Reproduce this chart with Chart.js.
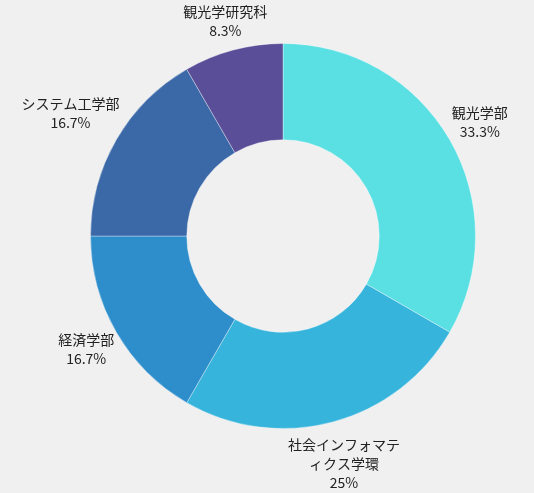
<!DOCTYPE html>
<html><head><meta charset="utf-8">
<script src="https://cdn.jsdelivr.net/npm/chart.js@4"></script>
<style>
html,body{margin:0;padding:0;background:#f0f0f0;}
#wrap{width:534px;height:493px;}
</style></head>
<body><div id="wrap"><canvas id="c" width="534" height="493"></canvas></div>
<script>
const categories = ["観光学部","社会インフォマティクス学環","経済学部","システム工学部","観光学研究科"];
const counts = [4,3,2,2,1];
const percentLabels = ["33.3%","25%","16.7%","16.7%","8.3%"];
const colors = ["#5ae0e3","#36b4dc","#2d8ecb","#3b69a8","#5a4e98"];

const labelPlugin = {
  id:'outerLabels',
  afterDatasetsDraw(chart){
    const ctx = chart.ctx;
    const meta = chart.getDatasetMeta(0);
    ctx.save();
    ctx.font = '14px "Noto Sans CJK JP"';
    ctx.fillStyle = '#222';
    ctx.textAlign = 'center';
    ctx.textBaseline = 'middle';
    const maxW = 120, lh = 19, k = 1;
    meta.data.forEach((arc,i)=>{
      const p = arc.getProps(['x','y','startAngle','endAngle','outerRadius'],true);
      const mid = (p.startAngle+p.endAngle)/2;
      const lines = [];
      let cur = '';
      for (const ch of categories[i]) {
        if (ctx.measureText(cur+ch).width > maxW && cur) { lines.push(cur); cur = ch; }
        else cur += ch;
      }
      if (cur) lines.push(cur);
      lines.push(percentLabels[i]);
      let w = 0; lines.forEach(l=>{w=Math.max(w,ctx.measureText(l).width);});
      const h = lines.length*lh;
      const dx = Math.cos(mid), dy = Math.sin(mid);
      const support = Math.abs(dx)*w/2 + Math.abs(dy)*h/2;
      const r = p.outerRadius + k + support;
      const cx = p.x + dx*r;
      const cy = p.y + dy*r;
      const y0 = cy - (lines.length-1)*lh/2;
      lines.forEach((l,j)=>ctx.fillText(l, cx, y0+j*lh));
    });
    ctx.restore();
  }
};

new Chart(document.getElementById('c'),{
  type:'doughnut',
  data:{labels:categories,datasets:[{data:counts,backgroundColor:colors,borderColor:'rgba(255,255,255,0.35)',borderWidth:1}]},
  options:{
    responsive:false,animation:false,cutout:'50%',
    layout:{padding:{top:43,bottom:64,left:90,right:58}},
    plugins:{legend:{display:false},tooltip:{enabled:false}}
  },
  plugins:[labelPlugin]
});
</script></body></html>
